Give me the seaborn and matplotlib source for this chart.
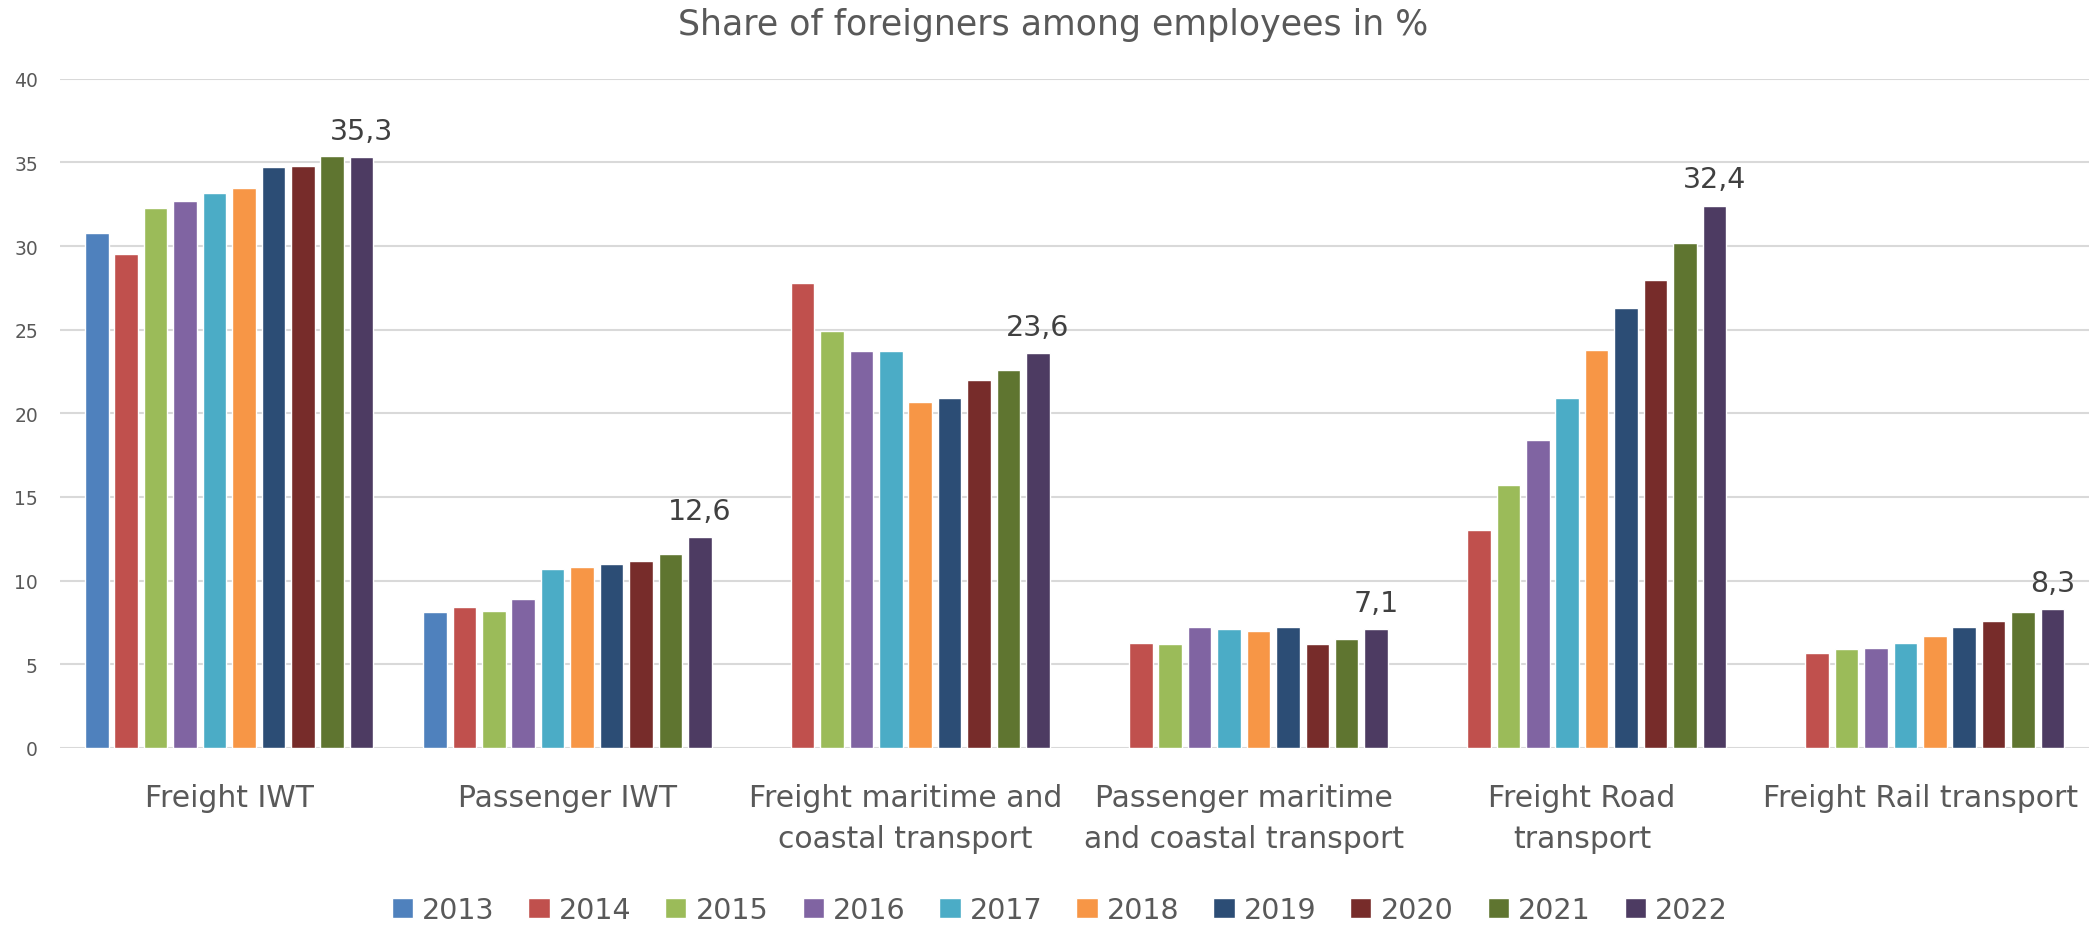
import numpy as np
import pandas as pd
import matplotlib
matplotlib.use("Agg")
import matplotlib.pyplot as plt
import seaborn as sns

categories = ["Freight IWT", "Passenger IWT", "Freight maritime and\ncoastal transport",
              "Passenger maritime\nand coastal transport", "Freight Road\ntransport",
              "Freight Rail transport"]
years = ["2013", "2014", "2015", "2016", "2017", "2018", "2019", "2020", "2021", "2022"]

freight_iwt = [30.8, 29.5, 32.3, 32.7, 33.2, 33.5, 34.7, 34.8, 35.4, 35.3]
passenger_iwt = [8.1, 8.4, 8.2, 8.9, 10.7, 10.8, 11.0, 11.2, 11.6, 12.6]
freight_maritime = [np.nan, 27.8, 24.9, 23.7, 23.7, 20.7, 20.9, 22.0, 22.6, 23.6]
passenger_maritime = [np.nan, 6.3, 6.2, 7.2, 7.1, 7.0, 7.2, 6.2, 6.5, 7.1]
freight_road = [np.nan, 13.0, 15.7, 18.4, 20.9, 23.8, 26.3, 28.0, 30.2, 32.4]
freight_rail = [np.nan, 5.7, 5.9, 6.0, 6.3, 6.7, 7.2, 7.6, 8.1, 8.3]

colors = ["#4F81BD", "#C0504D", "#9BBB59", "#8064A2", "#4BACC6",
          "#F79646", "#2C4D75", "#772C2A", "#5F7530", "#4D3B62"]

series = [freight_iwt, passenger_iwt, freight_maritime, passenger_maritime, freight_road, freight_rail]
rows = []
for cat, vals in zip(categories, series):
    for y, v in zip(years, vals):
        rows.append({"category": cat, "year": y, "value": v})
df = pd.DataFrame(rows)

sns.set_theme(style="white")
plt.rcParams['font.family'] = ['DejaVu Sans']
text_color = "#595959"

fig = plt.figure(figsize=(20.94, 9.28), dpi=100)
ax = fig.add_axes([0.0287, 0.193, 0.969, 0.721])

sns.barplot(data=df, x="category", y="value", hue="year", order=categories,
            hue_order=years, palette=colors, width=0.87, gap=0.2,
            saturation=1, ax=ax, legend=True, err_kws={'linewidth': 0})

ax.set_ylim(0, 40)
ax.set_xlim(-0.5, 5.5)
ax.set_yticks(range(0, 41, 5))
ax.yaxis.grid(True, color="#D9D9D9", linewidth=1.5)
ax.set_axisbelow(True)
for s in ax.spines.values():
    s.set_visible(False)
ax.set_xlabel("")
ax.set_ylabel("")
ax.tick_params(axis="x", length=0, labelsize=21.5, colors=text_color, pad=25)
ax.tick_params(axis="y", length=0, labelsize=13.5, colors=text_color, pad=16)
for lbl in ax.get_xticklabels():
    lbl.set_linespacing(1.55)

last_values = [s[-1] for s in series]
ax.bar_label(ax.containers[-1], labels=[f"{v:.1f}".replace(".", ",") for v in last_values],
             padding=9, fontsize=20.5, color="#404040")

fig.text(0.503, 0.973, "Share of foreigners among employees in %", fontsize=25,
         color=text_color, ha="center", va="center")

sns.move_legend(ax, "center", bbox_to_anchor=(0.4926, -0.242), ncol=10, frameon=False,
                title=None, fontsize=20.5, handlelength=0.74, handleheight=0.74,
                columnspacing=1.2, handletextpad=0.32)
for t in ax.get_legend().get_texts():
    t.set_color(text_color)

fig.savefig("out.png", dpi=100)
